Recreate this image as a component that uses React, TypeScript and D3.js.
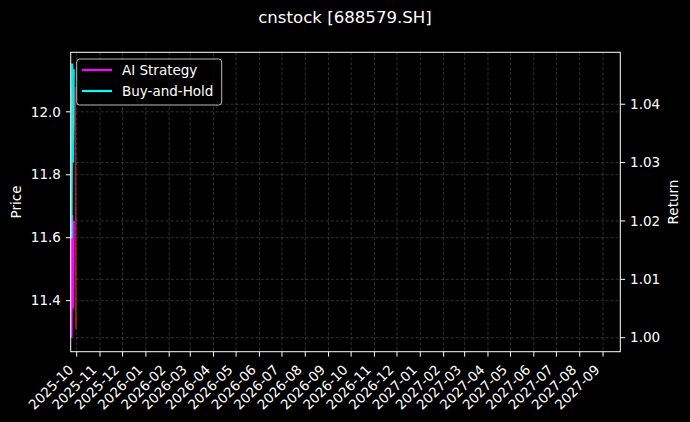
import React from "react";
import * as d3 from "d3";

// values
const dates = ["2025-09-24", "2025-09-25", "2025-09-26", "2025-09-29", "2025-09-30"];
const price = [12.07, 12.01, 11.9, 12.08, 11.31];
const aiDates = ["2025-09-24", "2025-09-25", "2025-09-26", "2025-09-27"];
const aiStrategy = [1.0, 1.021, 1.005, 1.02];
const buyHold = [1.017, 1.047, 1.03, 1.046];
const priceTicks = [11.4, 11.6, 11.8, 12.0];
const returnTicks = [1.0, 1.01, 1.02, 1.03, 1.04];
const xStart = "2025-09-23";
const xEnd = "2027-09-24";

const W = 690;
const H = 422;
const left = 70.7;
const right = 620.3;
const top = 52.3;
const bottom = 351.7;
const font = "'DejaVu Sans', sans-serif";
const magenta = "#ff00ff";
const cyan = "#00ffff";
const gridColor = "rgba(176,176,176,0.35)";

export default function App() {
    const parse = d3.utcParse("%Y-%m-%d");
    const x = d3.scaleUtc([parse(xStart)!, parse(xEnd)!], [left, right]);
    const yP = d3.scaleLinear([11.238, 12.189], [bottom, top]);
    const yR = d3.scaleLinear([0.9976, 1.0489], [bottom, top]);
    const months = d3.utcMonth.range(parse("2025-10-01")!, parse("2027-10-01")!);
    const fmt = d3.utcFormat("%Y-%m");

    const priceLine = d3
        .line<number>()
        .x((_, i) => x(parse(dates[i])!))
        .y((d) => yP(d));
    const retLine = d3
        .line<number>()
        .x((_, i) => x(parse(aiDates[i])!))
        .y((d) => yR(d));

    return (
        <svg
            width={W}
            height={H}
            style={{ position: "absolute", left: 0, top: 0, background: "#000" }}
            fontFamily={font}
        >
            <rect width={W} height={H} fill="#000" />
            <text x={345} y={23} fill="#fff" fontSize={16.6} textAnchor="middle">
                cnstock [688579.SH]
            </text>

            {/* grid */}
            <g stroke={gridColor} strokeWidth={0.8} strokeDasharray="3,2">
                {months.map((m, i) => (
                    <line key={"v" + i} x1={x(m)} x2={x(m)} y1={top} y2={bottom} />
                ))}
                {priceTicks.map((t, i) => (
                    <line key={"p" + i} x1={left} x2={right} y1={yP(t)} y2={yP(t)} />
                ))}
                {returnTicks.map((t, i) => (
                    <line key={"r" + i} x1={left} x2={right} y1={yR(t)} y2={yR(t)} />
                ))}
            </g>

            {/* series */}
            <path d={priceLine(price) ?? ""} fill="none" stroke="#c0282a" strokeOpacity={0.85} strokeWidth={1.6} />
            <path d={retLine(aiStrategy) ?? ""} fill="none" stroke={magenta} strokeWidth={2.2} />
            <path d={retLine(buyHold) ?? ""} fill="none" stroke={cyan} strokeWidth={2.2} strokeOpacity={0.9} />

            {/* spines */}
            <rect x={left} y={top} width={right - left} height={bottom - top} fill="none" stroke="#fff" strokeWidth={1} />

            {/* x axis */}
            <g fill="#fff" fontSize={13.5}>
                {months.map((m, i) => (
                    <g key={i}>
                        <line x1={x(m)} x2={x(m)} y1={bottom} y2={bottom + 4.9} stroke="#fff" />
                        <text
                            textAnchor="end"
                            transform={`translate(${x(m) - 2.5},${bottom + 19}) rotate(-45)`}
                        >
                            {fmt(m)}
                        </text>
                    </g>
                ))}
            </g>

            {/* left axis */}
            <g fill="#fff" fontSize={13.5}>
                {priceTicks.map((t, i) => (
                    <g key={i}>
                        <line x1={left - 4.9} x2={left} y1={yP(t)} y2={yP(t)} stroke="#fff" />
                        <text x={left - 9.8} y={yP(t)} dy="0.35em" textAnchor="end">
                            {t.toFixed(1)}
                        </text>
                    </g>
                ))}
                <text transform={`translate(21,${(top + bottom) / 2}) rotate(-90)`} textAnchor="middle">
                    Price
                </text>
            </g>

            {/* right axis */}
            <g fill="#fff" fontSize={13.5}>
                {returnTicks.map((t, i) => (
                    <g key={i}>
                        <line x1={right} x2={right + 4.9} y1={yR(t)} y2={yR(t)} stroke="#fff" />
                        <text x={right + 9.8} y={yR(t)} dy="0.35em" textAnchor="start">
                            {t.toFixed(2)}
                        </text>
                    </g>
                ))}
                <text transform={`translate(678,${(top + bottom) / 2}) rotate(-90)`} textAnchor="middle">
                    Return
                </text>
            </g>

            {/* legend */}
            <g>
                <rect x={76.7} y={59} width={145} height={46} rx={3} fill="rgba(0,0,0,0.8)" stroke="rgba(204,204,204,0.9)" />
                <line x1={82} x2={112} y1={70} y2={70} stroke={magenta} strokeWidth={2.2} />
                <line x1={82} x2={112} y1={91} y2={91} stroke={cyan} strokeWidth={2.2} />
                <text x={122} y={75} fill="#fff" fontSize={13.5}>AI Strategy</text>
                <text x={122} y={96} fill="#fff" fontSize={13.5}>Buy-and-Hold</text>
            </g>
        </svg>
    );
}
